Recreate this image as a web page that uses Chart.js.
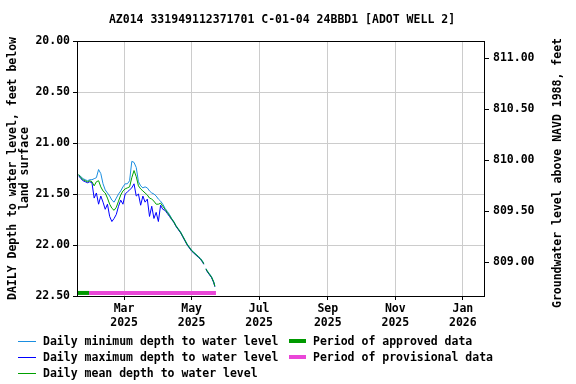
<!DOCTYPE html>
<html>
<head>
<meta charset="utf-8">
<script src="https://cdn.jsdelivr.net/npm/chart.js@4/dist/chart.umd.min.js"></script>
<style>
  html, body { margin:0; padding:0; background:#fff; }
  #wrap { position:relative; width:576px; height:384px; background:#fff; overflow:hidden; }
  #c { position:absolute; left:0; top:0; }
  .txt { position:absolute; font-family:"DejaVu Sans Mono", monospace; font-weight:bold; font-size:11.5px; color:#000; white-space:pre; line-height:14px; }
  .sw { position:absolute; }
</style>
</head>
<body>
<div id="wrap">
  <canvas id="c" width="576" height="384"></canvas>
  <div class="txt" id="title" style="left:0;width:564px;top:12px;text-align:center;">AZ014 331949112371701 C-01-04 24BBD1 [ADOT WELL 2]</div>
  <div class="txt" id="rtitle" style="left:407px;top:166px;width:300px;text-align:center;transform-origin:50% 50%;transform:rotate(-90deg);">Groundwater level above NAVD 1988, feet</div>
  <div id="legend"></div>
</div>
<script>
// ---- data (day number counted from 1 Jan 2025 = day 1) ----
const days = [18,20,22,24,26,28,30,32,34,36,38,40,42,44,46,48,50,52,54,56,58,60,62,64,66,68,70,72,74,76,78,80,82,84,86,88,90,92,94,96,98,100,102,104,106,108,110,112,114,116,118,120,122,124,126,128,130,131,132,133,134,136,138,140,141];
const minDepth = [21.31,21.33,21.35,21.36,21.37,21.36,21.36,21.35,21.34,21.26,21.30,21.40,21.46,21.49,21.52,21.56,21.58,21.54,21.50,21.47,21.43,21.40,21.40,21.37,21.18,21.19,21.24,21.38,21.42,21.44,21.43,21.44,21.47,21.49,21.50,21.52,21.55,21.57,21.60,21.64,21.67,21.70,21.74,21.77,21.81,21.84,21.87,21.91,21.95,21.99,22.02,22.05,22.07,22.09,22.11,22.13,22.16,22.18,null,22.23,22.25,22.28,22.31,22.36,22.40];
const maxDepth = [21.32,21.35,21.37,21.38,21.39,21.38,21.39,21.54,21.49,21.60,21.52,21.58,21.65,21.60,21.72,21.77,21.74,21.70,21.62,21.56,21.60,21.50,21.48,21.46,21.44,21.40,21.52,21.50,21.61,21.52,21.58,21.55,21.72,21.62,21.74,21.68,21.77,21.61,21.65,21.66,21.69,21.72,21.75,21.78,21.82,21.85,21.88,21.92,21.96,22.00,22.03,22.06,22.08,22.10,22.12,22.14,22.17,22.19,null,22.24,22.26,22.29,22.32,22.37,22.41];
const meanDepth = [21.31,21.34,21.36,21.37,21.38,21.37,21.38,21.42,21.38,21.37,21.43,21.47,21.49,21.54,21.60,21.64,21.66,21.63,21.57,21.51,21.47,21.45,21.44,21.43,21.34,21.27,21.33,21.42,21.45,21.47,21.49,21.51,21.54,21.55,21.57,21.60,21.60,21.59,21.62,21.65,21.68,21.71,21.745,21.775,21.815,21.845,21.875,21.915,21.955,21.995,22.025,22.055,22.075,22.095,22.115,22.135,22.165,22.185,null,22.235,22.255,22.285,22.315,22.365,22.405];
const approvedPeriod = [16.5, 27.4];
const provisionalPeriod = [27.4, 142];
const periodDepth = 22.47;

const xTickDays = [59,120,181,243,304,365];
const xTickLabels = [["Mar","2025"],["May","2025"],["Jul","2025"],["Sep","2025"],["Nov","2025"],["Jan","2026"]];
const leftTicks = [20.0,20.5,21.0,21.5,22.0,22.5];
const rightTicks = [809.0,809.5,810.0,810.5,811.0];
const datumOffset = 831.167; // elevation = datumOffset - depth
const xMin = 16.5, xMax = 385;
const yMin = 20.0, yMax = 22.5;

const legendItems = [
  {label:"Daily minimum depth to water level", color:"#1a8ee0", thick:false, col:0, row:0},
  {label:"Daily maximum depth to water level", color:"#0000ff", thick:false, col:0, row:1},
  {label:"Daily mean depth to water level", color:"#00a000", thick:false, col:0, row:2},
  {label:"Period of approved data", color:"#009900", thick:true, col:1, row:0},
  {label:"Period of provisional data", color:"#ea46d8", thick:true, col:1, row:1}
];

// ---- build ----
const pts = arr => days.map((d,i)=>({x:d, y:arr[i]}));
const FONT = {family:"DejaVu Sans Mono", size:11.5, weight:"bold"};

const frame = {
  id:'frame',
  afterDraw(chart){
    const a = chart.chartArea, ctx = chart.ctx;
    ctx.save();
    ctx.strokeStyle = '#000'; ctx.lineWidth = 1;
    ctx.strokeRect(Math.round(a.left)+0.5, Math.round(a.top)+0.5, Math.round(a.right-a.left)-1, Math.round(a.bottom-a.top));
    ctx.restore();
  }
};

new Chart(document.getElementById('c'), {
  type:'line',
  data:{
    datasets:[
      {label:'approved', data:approvedPeriod.map(d=>({x:d,y:periodDepth})), borderColor:legendItems[3].color, borderWidth:4, pointRadius:0, order:1},
      {label:'provisional', data:provisionalPeriod.map(d=>({x:d,y:periodDepth})), borderColor:legendItems[4].color, borderWidth:4, pointRadius:0, order:1},
      {label:'min', data:pts(minDepth), borderColor:legendItems[0].color, borderWidth:1, pointRadius:0, order:4},
      {label:'max', data:pts(maxDepth), borderColor:legendItems[1].color, borderWidth:1, pointRadius:0, order:3},
      {label:'mean', data:pts(meanDepth), borderColor:legendItems[2].color, borderWidth:1, pointRadius:0, order:2}
    ]
  },
  options:{
    responsive:false, animation:false, devicePixelRatio:1,
    layout:{padding:{top:41, bottom:58, left:0, right:0}},
    plugins:{legend:{display:false}, tooltip:{enabled:false}, title:{display:false}},
    scales:{
      x:{type:'linear', min:xMin, max:xMax, position:'bottom',
         afterBuildTicks(s){ s.ticks = xTickDays.map(v=>({value:v})); },
         afterFit(s){ s.height = 30; },
         ticks:{color:'#000', font:FONT, maxRotation:0, autoSkip:false, padding:2,
                callback(v){ const i = xTickDays.indexOf(v); return i>=0 ? xTickLabels[i] : ''; }},
         grid:{color:'#cccccc', tickColor:'#000', tickLength:4, drawTicks:true},
         border:{display:false}},
      y:{type:'linear', position:'left', reverse:true, min:yMin, max:yMax,
         afterBuildTicks(s){ s.ticks = leftTicks.map(v=>({value:v})); },
         afterFit(s){ s.width = 77; },
         ticks:{color:'#000', font:FONT, padding:3, callback:v=>Number(v).toFixed(2)},
         grid:{color:'#cccccc', tickColor:'#000', tickLength:4},
         border:{display:false},
         title:{display:true, text:["DAILY Depth to water level, feet below","land surface"], color:'#000',
                font:{family:"DejaVu Sans Mono", size:11.5, weight:"bold", lineHeight:12/11.5}, padding:{top:7, bottom:0}}},
      y2:{type:'linear', position:'right', min:datumOffset-yMax, max:datumOffset-yMin,
         afterBuildTicks(s){ s.ticks = rightTicks.map(v=>({value:v})); },
         afterFit(s){ s.width = 91; },
         ticks:{color:'#000', font:FONT, padding:4, callback:v=>Number(v).toFixed(2)},
         grid:{drawOnChartArea:false, tickColor:'#000', tickLength:4},
         border:{display:false}}
    }
  },
  plugins:[frame]
});

// ---- HTML legend ----
const lg = document.getElementById('legend');
const colX = [[18,43],[289,313]];
const rowY = [341,357,373];
legendItems.forEach(it=>{
  const sw = document.createElement('div');
  sw.className = 'sw';
  const h = it.thick ? 4 : 1;
  sw.style.cssText = `left:${colX[it.col][0]}px;top:${rowY[it.row]-Math.floor(h/2)}px;width:${it.thick?17:18}px;height:${h}px;background:${it.color};`;
  lg.appendChild(sw);
  const t = document.createElement('div');
  t.className = 'txt';
  t.textContent = it.label;
  t.style.left = colX[it.col][1]+'px';
  t.style.top = (rowY[it.row]-7)+'px';
  lg.appendChild(t);
});
</script>
</body>
</html>
